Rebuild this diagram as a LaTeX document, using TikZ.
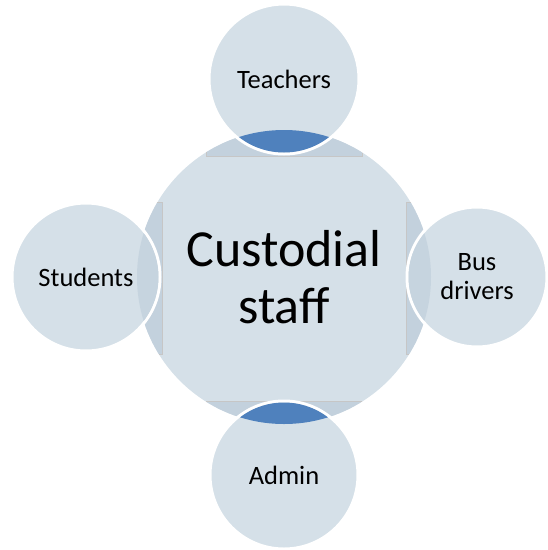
\documentclass[tikz,border=0pt]{standalone}
\usepackage{fontspec}
\setmainfont{Carlito}
\definecolor{hubfill}{HTML}{D5E0E8}
\definecolor{barfill}{HTML}{C3D1DD}
\definecolor{lensblue}{HTML}{4F81BD}
\definecolor{lensgrey}{HTML}{C6D4DF}

\begin{document}
\begin{tikzpicture}[x=1pt,y=-1pt,
  sat/.style={circle, fill=hubfill, draw=white, line width=3pt, inner sep=0pt,
    align=center, font=\fontsize{26.5}{29}\selectfont}]

  \useasboundingbox (0,0) rectangle (548,550);

  % Draw the central circle
  \node[circle, fill=hubfill, minimum size=294pt, inner sep=0pt, align=center,
    font=\fontsize{52}{57}\selectfont] (hub) at (284,277) {Custodial\\staff};

  % Bars behind the outer circles (seen only inside the central circle)
  \begin{scope}
    \clip (hub.center) circle (147pt);
    \filldraw[fill=barfill, draw=gray!45, line width=0.4pt] (206,100) rectangle (362,156);
    \filldraw[fill=barfill, draw=gray!45, line width=0.4pt] (206,401) rectangle (362,460);
    \filldraw[fill=barfill, draw=gray!45, line width=0.4pt] (100,202) rectangle (162,354);
    \filldraw[fill=barfill, draw=gray!45, line width=0.4pt] (406,202) rectangle (470,354);
  \end{scope}

  % Outer circles
  \node[sat, minimum size=150pt] (teachers) at (284,79) {Teachers};
  \node[sat, minimum size=148pt] (students) at (86,277) {Students};
  \node[sat, minimum size=140pt] (busdrivers) at (477,277) {Bus\\drivers};
  \node[sat, minimum size=148pt] (admin) at (284,475) {Admin};

  % Overlap of the outer circles with the central circle
  \begin{scope}
    \clip (hub.center) circle (147pt);
    \fill[lensblue] (teachers.center) circle (73.5pt);
    \fill[lensblue] (admin.center) circle (72.5pt);
    \fill[lensgrey] (students.center) circle (72.5pt);
    \fill[lensgrey] (busdrivers.center) circle (68.5pt);
  \end{scope}

\end{tikzpicture}
\end{document}
